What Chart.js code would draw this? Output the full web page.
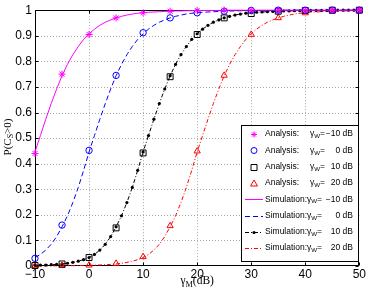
<!DOCTYPE html>
<html>
<head>
<meta charset="utf-8">
<script src="https://cdn.jsdelivr.net/npm/chart.js@4.4.1/dist/chart.umd.min.js"></script>
<style>
body{margin:0;background:#fff}
#wrap{width:367px;height:288px}
</style>
</head>
<body>
<div id="wrap"><canvas id="c"></canvas></div>
<script>
const xTicks = [-10, 0, 10, 20, 30, 40, 50];
const yTicks = [0, 0.1, 0.2, 0.3, 0.4, 0.5, 0.6, 0.7, 0.8, 0.9, 1];

// analysis points, every 5 dB
const xAna = [-10, -5, 0, 5, 10, 15, 20, 25, 30, 35, 40, 45, 50];
const anaM10 = [0.44, 0.75, 0.905, 0.97, 0.99, 0.996, 0.999, 1, 1, 1, 1, 1, 1];
const ana0 = [0.03, 0.16, 0.452, 0.745, 0.912, 0.97, 0.99, 0.996, 0.999, 1, 1, 1, 1];
const ana10 = [0.002, 0.008, 0.033, 0.149, 0.442, 0.74, 0.905, 0.97, 0.987, 0.996, 0.999, 1, 1];
const ana20 = [0.0003, 0.001, 0.003, 0.01, 0.036, 0.157, 0.449, 0.745, 0.905, 0.97, 0.989, 0.996, 0.999];

// simulation, every 1 dB
const xSim = [-10,-9,-8,-7,-6,-5,-4,-3,-2,-1,0,1,2,3,4,5,6,7,8,9,10,11,12,13,14,15,16,17,18,19,20,
  21,22,23,24,25,26,27,28,29,30,31,32,33,34,35,36,37,38,39,40,41,42,43,44,45,46,47,48,49,50];
const simM10 = [0.446,0.510,0.574,0.635,0.692,0.744,0.788,0.826,0.858,0.886,
  0.908,0.926,0.941,0.953,0.962,0.970,0.976,0.981,0.985,0.988,
  0.990,0.992,0.993,0.994,0.995,0.996,0.997,0.997,0.998,0.998,
  0.999,0.999,0.999,0.999,0.999,0.999,1,1,1,1,
  1,1,1,1,1,1,1,1,1,1,1,1,1,1,1,1,1,1,1,1,1];
const sim0 = [0.033,0.0452,0.0624,0.0848,0.115,0.153,0.196,0.248,0.307,0.374,
  0.446,0.510,0.574,0.635,0.692,0.744,0.788,0.826,0.858,0.886,
  0.908,0.926,0.941,0.953,0.962,0.970,0.976,0.981,0.985,0.988,
  0.990,0.992,0.993,0.994,0.995,0.996,0.997,0.997,0.998,0.998,
  0.999,0.999,0.999,0.999,0.999,0.999,1,1,1,1,1,1,1,1,1,1,1,1,1,1,1];
const sim10 = [0.0025,0.0032,0.0040,0.0050,0.0063,0.0080,0.0107,0.0142,0.0187,0.0249,
  0.033,0.0452,0.0624,0.0848,0.115,0.153,0.196,0.248,0.307,0.374,
  0.446,0.510,0.574,0.635,0.692,0.744,0.788,0.826,0.858,0.886,
  0.908,0.926,0.941,0.953,0.962,0.970,0.976,0.981,0.985,0.988,
  0.990,0.992,0.993,0.994,0.995,0.996,0.997,0.997,0.998,0.998,
  0.999,0.999,0.999,0.999,0.999,0.999,1,1,1,1,1];
const sim20 = [0.0003,0.0004,0.0005,0.0006,0.0008,0.0010,0.0012,0.0014,0.0017,0.0021,
  0.0025,0.0032,0.0040,0.0050,0.0063,0.0080,0.0107,0.0142,0.0187,0.0249,
  0.033,0.0452,0.0624,0.0848,0.115,0.153,0.196,0.248,0.307,0.374,
  0.446,0.510,0.574,0.635,0.692,0.744,0.788,0.826,0.858,0.886,
  0.908,0.926,0.941,0.953,0.962,0.970,0.976,0.981,0.985,0.988,
  0.990,0.992,0.993,0.994,0.995,0.996,0.997,0.997,0.998,0.998,0.999];

const legendRows = [
  {kind: 'Analysis:', val: '\u221210 dB'},
  {kind: 'Analysis:', val: '0 dB'},
  {kind: 'Analysis:', val: '10 dB'},
  {kind: 'Analysis:', val: '20 dB'},
  {kind: 'Simulation:', val: '\u221210 dB'},
  {kind: 'Simulation:', val: '0 dB'},
  {kind: 'Simulation:', val: '10 dB'},
  {kind: 'Simulation:', val: '20 dB'}
];

const pts = (xs, ys) => xs.map((x, i) => ({x: x, y: ys[i]}));
const SANS = '"Liberation Sans", Arial, sans-serif';
const SERIF = '"Liberation Serif", "Times New Roman", serif';

function mark(ctx, type, x, y, color) {
  ctx.save();
  ctx.strokeStyle = color;
  ctx.fillStyle = color;
  ctx.lineWidth = 1;
  ctx.setLineDash([]);
  ctx.beginPath();
  if (type === 'star') {
    const r = 3;
    ctx.moveTo(x - r, y); ctx.lineTo(x + r, y);
    ctx.moveTo(x, y - r); ctx.lineTo(x, y + r);
    ctx.moveTo(x - r * 0.7, y - r * 0.7); ctx.lineTo(x + r * 0.7, y + r * 0.7);
    ctx.moveTo(x - r * 0.7, y + r * 0.7); ctx.lineTo(x + r * 0.7, y - r * 0.7);
    ctx.stroke();
  } else if (type === 'circle') {
    ctx.arc(x, y, 3, 0, Math.PI * 2); ctx.stroke();
  } else if (type === 'rect') {
    ctx.rect(x - 3, y - 3, 6, 6); ctx.stroke();
  } else if (type === 'triangle') {
    ctx.moveTo(x, y - 3.5); ctx.lineTo(x + 3.5, y + 2.5); ctx.lineTo(x - 3.5, y + 2.5); ctx.closePath(); ctx.stroke();
  } else if (type === 'dot') {
    ctx.arc(x, y, 1.6, 0, Math.PI * 2); ctx.fill();
  }
  ctx.restore();
}

// text with one subscript: [before, sub, after]
function subText(ctx, parts, x, y, size, align) {
  ctx.font = size + 'px ' + ctx._fam;
  const w0 = ctx.measureText(parts[0]).width;
  ctx.font = (size * 0.72) + 'px ' + ctx._fam;
  const w1 = ctx.measureText(parts[1]).width;
  ctx.font = size + 'px ' + ctx._fam;
  const w2 = ctx.measureText(parts[2]).width;
  let sx = align === 'center' ? x - (w0 + w1 + w2) / 2 : x;
  ctx.textAlign = 'left';
  ctx.fillText(parts[0], sx, y);
  ctx.font = (size * 0.72) + 'px ' + ctx._fam;
  ctx.fillText(parts[1], sx + w0, y + size * 0.3);
  ctx.font = size + 'px ' + ctx._fam;
  ctx.fillText(parts[2], sx + w0 + w1, y);
  return sx + w0 + w1 + w2;
}

const frame = {
  id: 'frame',
  beforeDatasetsDraw(chart) {
    const {ctx, chartArea: a, scales: {x, y}} = chart;
    ctx.save();
    ctx.strokeStyle = '#a8a8a8';
    ctx.lineWidth = 1;
    ctx.setLineDash([1, 2]);
    ctx.beginPath();
    xTicks.forEach(v => {
      const px = Math.round(x.getPixelForValue(v)) + 0.5;
      if (px > a.left + 2 && px < a.right - 2) { ctx.moveTo(px, a.top); ctx.lineTo(px, a.bottom); }
    });
    yTicks.forEach(v => {
      const py = Math.round(y.getPixelForValue(v)) + 0.5;
      if (py > a.top + 2 && py < a.bottom - 2) { ctx.moveTo(a.left, py); ctx.lineTo(a.right, py); }
    });
    ctx.stroke();
    ctx.setLineDash([]);
    ctx.strokeStyle = '#000';
    const L = Math.round(a.left) + 0.5, R = Math.round(a.right) - 0.5;
    const T = Math.round(a.top) + 0.5, B = Math.round(a.bottom) - 0.5;
    ctx.strokeRect(L, T, R - L, B - T);
    ctx.beginPath();
    xTicks.forEach(v => {
      const px = Math.round(x.getPixelForValue(v)) + 0.5;
      ctx.moveTo(px, B); ctx.lineTo(px, B - 3);
      ctx.moveTo(px, T); ctx.lineTo(px, T + 3);
    });
    yTicks.forEach(v => {
      const py = Math.round(y.getPixelForValue(v)) + 0.5;
      ctx.moveTo(L, py); ctx.lineTo(L + 3, py);
      ctx.moveTo(R, py); ctx.lineTo(R - 3, py);
    });
    ctx.stroke();
    ctx.restore();
  },
  afterDraw(chart) {
    const {ctx, chartArea: a} = chart;
    ctx.save();
    // legend box
    const bx = 241.5, by = 125.5, bw = 117, bh = 136;
    ctx.fillStyle = '#fff';
    ctx.fillRect(bx, by, bw, bh);
    ctx.strokeStyle = '#000';
    ctx.lineWidth = 1;
    ctx.strokeRect(bx, by, bw, bh);
    const styles = [
      {m: 'star', c: '#ff00ff'}, {m: 'circle', c: '#0000ff'}, {m: 'rect', c: '#000'}, {m: 'triangle', c: '#ff0000'},
      {d: [], c: '#ff00ff'}, {d: [5, 3], c: '#0000ff'}, {d: [4, 2, 1, 2], c: '#000', m: 'dot'}, {d: [4, 2, 1, 2], c: '#ff0000'}
    ];
    legendRows.forEach((row, i) => {
      const ry = 134 + i * 16.3;
      const s = styles[i];
      if (s.d) {
        ctx.save();
        ctx.strokeStyle = s.c;
        ctx.lineWidth = 1;
        ctx.setLineDash(s.d);
        ctx.beginPath();
        ctx.moveTo(245, Math.round(ry) + 0.5);
        ctx.lineTo(263, Math.round(ry) + 0.5);
        ctx.stroke();
        ctx.restore();
      }
      if (s.m) mark(ctx, s.m, 254, Math.round(ry) + 0.5, s.c);
      ctx.fillStyle = '#000';
      ctx.textBaseline = 'middle';
      ctx._fam = SANS;
      ctx.font = '8.5px ' + SANS;
      ctx.textAlign = 'left';
      ctx.fillText(row.kind, 265, ry);
      const gx = row.kind === 'Analysis:' ? 310 : 265 + ctx.measureText(row.kind).width;
      subText(ctx, ['\u03b3', 'W', '='], gx, ry, 8.5, 'left');
      ctx.font = '8.5px ' + SANS;
      ctx.textAlign = 'right';
      ctx.fillText(row.val, 353, ry);
    });
    // axis titles
    ctx.fillStyle = '#000';
    ctx.textBaseline = 'middle';
    ctx._fam = SERIF;
    subText(ctx, ['\u03b3', 'M', '(dB)'], (a.left + a.right) / 2, 281, 11.5, 'center');
    ctx.translate(8, 137);
    ctx.rotate(-Math.PI / 2);
    subText(ctx, ['P(C', 'S', '>0)'], 0, 0, 11, 'center');
    ctx.restore();
  }
};

new Chart(document.getElementById('c'), {
  type: 'line',
  data: {
    datasets: [
      {data: pts(xAna, anaM10), showLine: false, pointStyle: 'star', pointRadius: 3.5, borderColor: '#ff00ff', pointBorderWidth: 1, clip: false},
      {data: pts(xAna, ana0), showLine: false, pointStyle: 'circle', pointRadius: 3.2, borderColor: '#0000ff', backgroundColor: 'rgba(0,0,0,0)', pointBorderWidth: 1, clip: false},
      {data: pts(xAna, ana10), showLine: false, pointStyle: 'rect', pointRadius: 4.2, borderColor: '#000', backgroundColor: 'rgba(0,0,0,0)', pointBorderWidth: 1, clip: false},
      {data: pts(xAna, ana20), showLine: false, pointStyle: 'triangle', pointRadius: 3.6, borderColor: '#ff0000', backgroundColor: 'rgba(0,0,0,0)', pointBorderWidth: 1, clip: false},
      {data: pts(xSim, simM10), borderColor: '#ff00ff', borderWidth: 1, pointRadius: 0, tension: 0, clip: false},
      {data: pts(xSim, sim0), borderColor: '#0000ff', borderWidth: 1, borderDash: [5, 3], pointRadius: 0, tension: 0, clip: false},
      {data: pts(xSim, sim10), borderColor: '#000', borderWidth: 1, borderDash: [4, 2, 1, 2], pointRadius: 1.6, pointStyle: 'circle', pointBackgroundColor: '#000', pointBorderWidth: 0, tension: 0, clip: false},
      {data: pts(xSim, sim20), borderColor: '#ff0000', borderWidth: 1, borderDash: [4, 2, 1, 2], pointRadius: 0, tension: 0, clip: false}
    ]
  },
  options: {
    responsive: true,
    maintainAspectRatio: false,
    animation: false,
    layout: {padding: {top: 9, right: 7, left: 0, bottom: 0}},
    plugins: {legend: {display: false}, tooltip: {enabled: false}},
    scales: {
      x: {
        type: 'linear', min: -10, max: 50,
        afterBuildTicks: s => { s.ticks = xTicks.map(v => ({value: v})); },
        afterFit: s => { s.height = 22; },
        grid: {display: false, drawTicks: false},
        border: {display: false},
        ticks: {padding: 1, color: '#000', font: {family: SANS, size: 12},
          callback: v => (v < 0 ? '\u2212' + (-v) : '' + v)}
      },
      y: {
        type: 'linear', min: 0, max: 1,
        afterBuildTicks: s => { s.ticks = yTicks.map(v => ({value: v})); },
        afterFit: s => { s.width = 35; },
        grid: {display: false, drawTicks: false},
        border: {display: false},
        ticks: {padding: 3, color: '#000', font: {family: SANS, size: 12},
          callback: v => '' + (+v.toFixed(1))}
      }
    }
  },
  plugins: [frame]
});
</script>
</body>
</html>
